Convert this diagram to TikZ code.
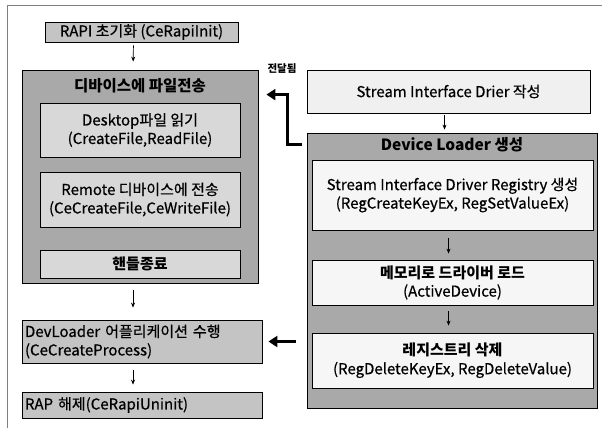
\documentclass[tikz,border=0pt]{standalone}
\usepackage{fontspec}
\setmainfont{Noto Sans CJK KR}[UprightFeatures={FakeBold=0.5}]
\usetikzlibrary{arrows.meta,calc}
\definecolor{darkfill}{HTML}{A9A9A9}
\definecolor{midfill}{HTML}{C4C4C4}
\definecolor{leftinner}{HTML}{D8D8D8}
\definecolor{lightfill}{HTML}{F0F0F0}
\definecolor{rinner}{HTML}{F6F6F6}
\tikzset{
  box/.style={draw=black, line width=0.8pt, inner sep=1pt, align=center, font=\fontsize{15}{18.5}\selectfont},
  outerbox/.style={box, fill=darkfill},
  linner/.style={box, fill=leftinner},
  rinbox/.style={box, fill=rinner},
  midbox/.style={box, fill=midfill},
  titletext/.style={font=\fontsize{15.5}{18}\selectfont\bfseries, inner sep=0pt},
  smallarr/.style={-{Stealth[length=5pt,width=4pt]}, line width=0.7pt},
  bigarr/.style={-{Triangle[length=9pt,width=11pt]}, line width=3pt},
}
\begin{document}
\begin{tikzpicture}[x=1pt,y=-1pt]
\useasboundingbox (0,0) rectangle (602,428);
\fill[white] (0,0) rectangle (602,428);
% frame
\draw[gray, line width=0.8pt] (7,428) -- (7,5) -- (602,5);

% left column
\node[midbox, minimum width=193pt, minimum height=20pt] (rapi) at (141.5,32) {RAPI 초기화 (CeRapiInit)};
\node[outerbox, minimum width=236pt, minimum height=213pt] (bigL) at (140,176.5) {};
\node[titletext] (titleL) at (140,86) {디바이스에 파일전송};
\node[linner, minimum width=200pt, minimum height=54pt] (desk) at (140,130) {Desktop파일 읽기\\(CreateFile,ReadFile)};
\node[linner, minimum width=200pt, minimum height=55pt] (remote) at (140,199.5) {Remote 디바이스에 전송\\(CeCreateFile,CeWriteFile)};
\node[linner, minimum width=200pt, minimum height=28pt, font=\fontsize{15}{18}\selectfont\bfseries] (handle) at (140,264) {핸들종료};
\node[midbox, minimum width=240pt, minimum height=43pt, text width=234pt, align=left] (devl) at (142,341.5) {DevLoader 어플리케이션 수행\\(CeCreateProcess)};
\node[midbox, minimum width=240pt, minimum height=26pt, text width=234pt, align=left] (rap) at (142,405) {RAP 해제(CeRapiUninit)};

\draw[smallarr, shorten <=3pt, shorten >=8pt] ([xshift=-8pt]rapi.south) -- ([xshift=-7pt]bigL.north);
\draw[smallarr, shorten <=7pt, shorten >=12pt] ([xshift=-7pt]bigL.south) -- ([xshift=-9pt]devl.north);
\draw[smallarr, shorten <=7pt, shorten >=7pt] ([xshift=-9pt]devl.south) -- ([xshift=-9pt]rap.north);

% right column
\node[box, fill=lightfill, minimum width=283pt, minimum height=43pt] (stream) at (448.5,91.5) {Stream Interface Drier 작성};
\node[outerbox, minimum width=290pt, minimum height=275pt] (bigR) at (452,270.5) {};
\node[titletext] (titleR) at (452,145) {Device Loader 생성};
\node[rinbox, minimum width=281pt, minimum height=70pt] (reg) at (452.5,195) {Stream Interface Driver Registry 생성\\(RegCreateKeyEx, RegSetValueEx)};
\node[rinbox, minimum width=281pt, minimum height=45pt] (mem) at (452.5,282.5) {\textbf{메모리로 드라이버 로드}\\(ActiveDevice)};
\node[rinbox, minimum width=281pt, minimum height=55pt] (del) at (452.5,360.5) {\textbf{레지스트리 삭제}\\(RegDeleteKeyEx, RegDeleteValue)};

\draw[smallarr, shorten <=2pt, shorten >=3pt] ([xshift=-4pt]stream.south) -- ([xshift=-4pt]stream.south |- bigR.north);
\draw[smallarr, shorten <=8pt, shorten >=6pt] ([xshift=-4pt]reg.south) -- ([xshift=-4pt]mem.north);
\draw[smallarr, shorten <=6pt, shorten >=7pt] ([xshift=-4pt]mem.south) -- ([xshift=-4pt]del.north);

% thick arrows
\node[font=\fontsize{10.5}{12}\selectfont\bfseries, inner sep=0pt] (sent) at (282,69) {전달됨};
\draw[bigarr, line join=miter, shorten <=5pt, shorten >=8pt] ([yshift=-12pt]bigR.north west) -- ++(-19,0) |- ([yshift=-25pt]bigL.north east);
\draw[bigarr, shorten <=11pt, shorten >=6pt] (devl.east -| bigR.west) -- (devl.east);
\end{tikzpicture}
\end{document}
